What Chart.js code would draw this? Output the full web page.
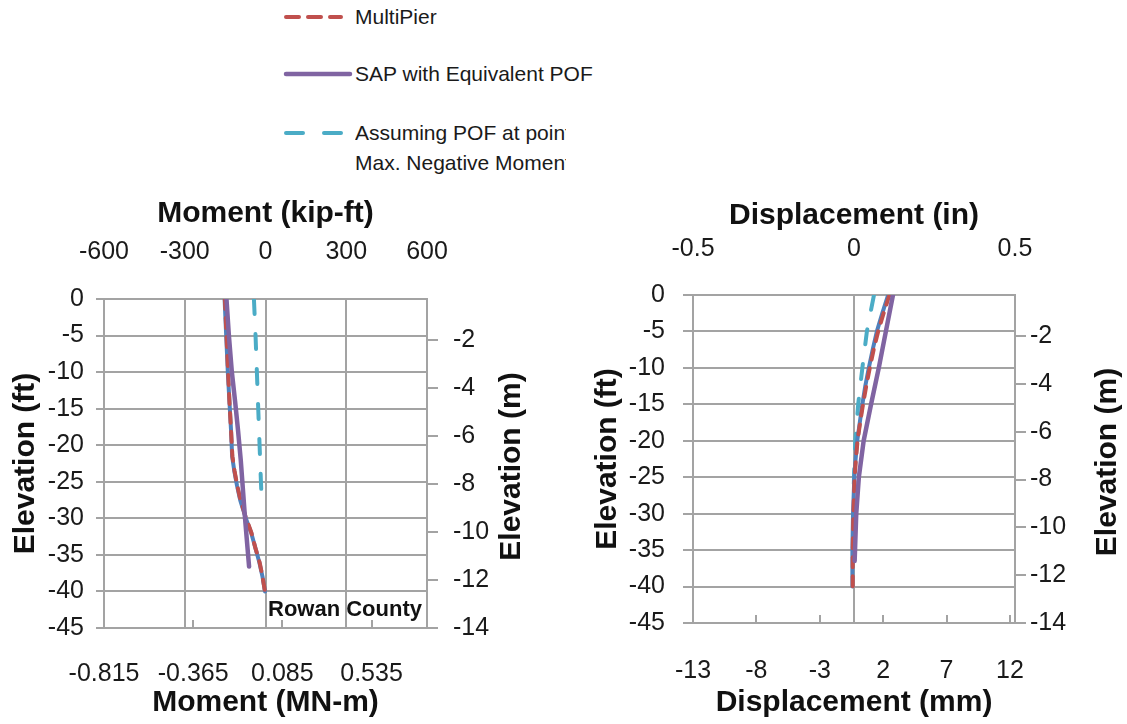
<!DOCTYPE html>
<html>
<head>
<meta charset="utf-8">
<title>Rowan County – Moment and Displacement Profiles</title>
<script src="https://cdn.jsdelivr.net/npm/chart.js@4.4.1/dist/chart.umd.min.js"></script>
<style>
  html, body { margin: 0; padding: 0; background: #ffffff; }
  #page {
    position: relative; width: 1127px; height: 724px; overflow: hidden;
    font-family: 'Liberation Sans', Arial, sans-serif; color: #1f1f1f;
  }
  canvas { position: absolute; }
  #momentChart { left: 0; top: 190px; }
  #dispChart { left: 580px; top: 190px; }
  .key-row { position: absolute; left: 0; }
  .key-row svg { position: absolute; left: 280px; top: 0; overflow: visible; }
  .key-text {
    position: absolute; left: 355px; overflow: hidden;
    font-size: 21px; line-height: 30px; white-space: nowrap; color: #1a1a1a;
  }
</style>
</head>
<body>
<div id="page">
  <div id="legend"></div>
  <canvas id="momentChart" width="570" height="534"></canvas>
  <canvas id="dispChart" width="547" height="534"></canvas>
</div>
<script>
// ---------------- Series: bending moment along the shaft (kip-ft) ----------------
const mpMomentElevFt = [0, -5, -10, -14, -18, -21.5, -23.5, -25.5, -27.5, -30, -32, -34, -36, -38, -40];
const mpMoment       = [-151, -145, -139, -134, -128, -123, -115, -105, -93, -72, -52, -38, -22, -11, -2];
const actMoment      = [-152, -146, -140, -134, -128, -124, -116, -106, -94, -73, -53, -38, -23, -11, -2];

const sapMomentElevFt = [0, -5, -10, -14, -18, -22, -26, -30, -36.6];
const sapMoment       = [-145, -136, -125, -113, -102, -92, -84, -76, -61];

const pofMomentElevFt = [0, -5, -10, -15, -20, -25, -28.4];
const pofMoment       = [-43, -37, -32, -27, -22, -17, -13];

// ---------------- Series: lateral displacement along the shaft (in) ----------------
const mpDispElevFt = [0, -2.5, -5, -7.5, -10, -12.5, -15, -17.5, -20, -22.5, -25, -30, -35, -40];
const mpDisp       = [0.110, 0.092, 0.075, 0.061, 0.049, 0.038, 0.028, 0.019, 0.011, 0.006, 0.002, -0.002, -0.004, -0.004];
const actDisp      = [0.106, 0.088, 0.071, 0.058, 0.046, 0.035, 0.026, 0.018, 0.010, 0.005, 0.001, -0.003, -0.005, -0.005];

const sapDispElevFt = [0, -5, -10, -15, -20, -25, -30, -36.5];
const sapDisp       = [0.121, 0.099, 0.077, 0.053, 0.030, 0.015, 0.007, 0.002];

const pofDispElevFt = [0, -5, -10, -15, -20, -25, -28.4];
const pofDisp       = [0.062, 0.040, 0.026, 0.013, 0.004, 0.000, -0.002];

// ---------------- Secondary-axis tick positions and labels ----------------
const momentMNmTicks      = [-0.815, -0.365, 0.085, 0.535];
const momentMNmTickLabels = ['-0.815', '-0.365', '0.085', '0.535'];
const dispMmTicks         = [-12.7, -7.7, -2.7, 2.3, 7.3, 12.3];
const dispMmTickLabels    = ['-13', '-8', '-3', '2', '7', '12'];
const elevMTicks          = [-13.716, -11.716, -9.716, -7.716, -5.716, -3.716, -1.716];
const elevMTickLabels     = ['-14', '-12', '-10', '-8', '-6', '-4', '-2'];

// ---------------- Shared styling ----------------
const FONT = "'Liberation Sans', Arial, sans-serif";
const TEXT = '#1a1a1a';
const GRID = '#a3a3a3';
const C_RED = '#c0504d', C_PURPLE = '#8064a2', C_CYAN = '#4bacc6', C_BLUE = '#4f81bd';

Chart.defaults.font.family = FONT;
Chart.defaults.color = TEXT;

const toPoints = (xs, ys) => xs.map((x, i) => ({ x: x, y: ys[i] }));

function seriesSet(mp, act, sap, pof) {
  return [
    { label: 'SAP with Equivalent POF', data: sap, borderColor: C_PURPLE, borderWidth: 4.5,
      order: 0, legendSlot: 1 },
    { label: 'MultiPier', data: mp, borderColor: C_RED, borderWidth: 4, borderDash: [10, 9],
      keyDash: [13, 9], order: 1, legendSlot: 0 },
    { label: 'SAP with Actual POF', data: act, borderColor: C_BLUE, borderWidth: 4,
      order: 2, legendSlot: -1 },
    { label: ['Assuming POF at point of', 'Max. Negative Moment'], data: pof, borderColor: C_CYAN,
      borderWidth: 4, borderDash: [15, 20], keyDash: [17, 21], order: 3, legendSlot: 2 }
  ].map(d => Object.assign({
    showLine: true, pointRadius: 0, pointHoverRadius: 0, fill: false,
    borderCapStyle: 'round', borderJoinStyle: 'round', tension: 0,
    xAxisID: 'x', yAxisID: 'y'
  }, d));
}

// Short tick marks pointing into the plot from the bottom axis
const innerTicks = {
  id: 'innerTicks',
  afterDraw(chart, args, opts) {
    const s = chart.scales[opts.scaleId];
    if (!s) return;
    const ctx = chart.ctx, b = chart.chartArea.bottom;
    ctx.save();
    ctx.strokeStyle = GRID; ctx.lineWidth = 2;
    s.ticks.forEach(t => {
      const x = Math.round(s.getPixelForValue(t.value));
      ctx.beginPath(); ctx.moveTo(x, b); ctx.lineTo(x, b - opts.length); ctx.stroke();
    });
    ctx.restore();
  }
};

// Title for the right-hand elevation axis, reading bottom-to-top
const sideTitle = {
  id: 'sideTitle',
  afterDraw(chart, args, opts) {
    if (!opts.text) return;
    const ctx = chart.ctx, a = chart.chartArea;
    ctx.save();
    ctx.translate(opts.x, (a.top + a.bottom) / 2 + (opts.dy || 0));
    ctx.rotate(-Math.PI / 2);
    ctx.font = 'bold 30px ' + FONT;
    ctx.fillStyle = '#111'; ctx.textAlign = 'center'; ctx.textBaseline = 'middle';
    ctx.fillText(opts.text, 0, 0);
    ctx.restore();
  }
};

// Site name written inside the plot area
const siteNote = {
  id: 'siteNote',
  afterDraw(chart, args, opts) {
    if (!opts.text) return;
    const ctx = chart.ctx, a = chart.chartArea, y = chart.scales.y;
    ctx.save();
    ctx.font = 'bold 22px ' + FONT;
    ctx.fillStyle = '#111111'; ctx.textAlign = 'right'; ctx.textBaseline = 'middle';
    ctx.fillText(opts.text, a.right - 5, y.getPixelForValue(opts.elev));
    ctx.restore();
  }
};

const tickFont = { size: 25 };
const titleFont = { size: 30, weight: 'bold' };
const border = { display: true, color: GRID, width: 2 };

function buildChart(canvasId, cfg) {
  const canvas = document.getElementById(canvasId);
  const W = canvas.width, H = canvas.height;
  return new Chart(canvas, {
    type: 'scatter',
    data: { datasets: cfg.datasets },
    plugins: [innerTicks, sideTitle, siteNote],
    options: {
      responsive: false, animation: false, devicePixelRatio: 1,
      events: [],
      layout: { padding: 0 },
      plugins: {
        legend: { display: false }, tooltip: { enabled: false },
        innerTicks: { scaleId: 'x2', length: 8 },
        sideTitle: { text: cfg.rightTitle, x: cfg.rightTitleX, dy: 3 },
        siteNote: cfg.note || {}
      },
      scales: {
        x: {
          type: 'linear', position: 'top', min: cfg.xMin, max: cfg.xMax,
          ticks: { stepSize: cfg.xStep, font: tickFont, color: TEXT, padding: cfg.topPad,
                   autoSkip: false, maxRotation: 0 },
          grid: { color: GRID, lineWidth: 2, drawTicks: false },
          border: border,
          title: { display: true, text: cfg.topTitle, font: titleFont, color: '#111',
                   padding: { top: cfg.topTitlePad, bottom: 0 } },
          afterFit: s => { s.height = cfg.plotTop; }
        },
        x2: {
          type: 'linear', position: 'bottom', min: cfg.x2Min, max: cfg.x2Max,
          afterBuildTicks: s => { s.ticks = cfg.x2Ticks.map(v => ({ value: v })); },
          ticks: { font: tickFont, color: TEXT, padding: cfg.bottomPad, autoSkip: false, maxRotation: 0,
                   callback: (v, i) => cfg.x2Labels[i] },
          grid: { drawOnChartArea: false, drawTicks: false },
          border: border,
          title: { display: true, text: cfg.bottomTitle, font: titleFont, color: '#111',
                   padding: { top: 0, bottom: 3 } },
          afterFit: s => { s.height = H - cfg.plotBottom; }
        },
        y: {
          type: 'linear', position: 'left', min: -45, max: 0,
          ticks: { stepSize: 5, font: tickFont, color: TEXT, padding: cfg.leftPad, autoSkip: false },
          grid: { color: GRID, lineWidth: 2, drawTicks: true, tickLength: cfg.leftTick },
          border: border,
          title: { display: true, text: 'Elevation (ft)', font: titleFont, color: '#111',
                   padding: { top: cfg.leftTitlePad, bottom: 0 } },
          afterFit: s => { s.width = cfg.plotLeft; }
        },
        y2: {
          type: 'linear', position: 'right', min: -13.716, max: 0,
          afterBuildTicks: s => { s.ticks = elevMTicks.map(v => ({ value: v })); },
          ticks: { font: tickFont, color: TEXT, padding: cfg.rightPad, autoSkip: false,
                   callback: (v, i) => elevMTickLabels[i] },
          grid: { drawOnChartArea: false, drawTicks: true, tickLength: 11, color: GRID, lineWidth: 2 },
          border: border,
          afterFit: s => { s.width = W - cfg.plotRight; }
        }
      }
    }
  });
}

const momentChart = buildChart('momentChart', {
  datasets: seriesSet(
    toPoints(mpMoment, mpMomentElevFt),
    toPoints(actMoment, mpMomentElevFt),
    toPoints(sapMoment, sapMomentElevFt),
    toPoints(pofMoment, pofMomentElevFt)
  ),
  xMin: -600, xMax: 600, xStep: 300,
  x2Min: -0.815, x2Max: 0.815, x2Ticks: momentMNmTicks, x2Labels: momentMNmTickLabels,
  topTitle: 'Moment (kip-ft)', bottomTitle: 'Moment (MN-m)',
  plotLeft: 104, plotRight: 427, plotTop: 109, plotBottom: 438,
  topPad: 32, topTitlePad: 6, bottomPad: 31,
  leftPad: 12, leftTick: 8, leftTitlePad: 8, rightPad: 15,
  rightTitle: 'Elevation (m)', rightTitleX: 512,
  note: { text: 'Rowan County', elev: -42.5 }
});

const dispChart = buildChart('dispChart', {
  datasets: seriesSet(
    toPoints(mpDisp, mpDispElevFt),
    toPoints(actDisp, mpDispElevFt),
    toPoints(sapDisp, sapDispElevFt),
    toPoints(pofDisp, pofDispElevFt)
  ),
  xMin: -0.5, xMax: 0.5, xStep: 0.5,
  x2Min: -12.7, x2Max: 12.7, x2Ticks: dispMmTicks, x2Labels: dispMmTickLabels,
  topTitle: 'Displacement (in)', bottomTitle: 'Displacement (mm)',
  plotLeft: 113, plotRight: 435, plotTop: 105, plotBottom: 433,
  topPad: 31, topTitlePad: 8, bottomPad: 33,
  leftPad: 18, leftTick: 10, leftTitlePad: 10, rightPad: 4,
  rightTitle: 'Elevation (m)', rightTitleX: 528
});

// ---------------- Legend (built from the moment chart's datasets) ----------------
(function buildLegend() {
  const rowsTop = [17, 74, 133];      // vertical centre of each entry's first line
  const sampleLen = [61, 70, 66];
  const clipWidth = [null, null, 211]; // the wrapped entry is cut off at the legend box edge
  const host = document.getElementById('legend');
  const entries = momentChart.data.datasets
    .filter(d => d.legendSlot >= 0)
    .sort((a, b) => a.legendSlot - b.legendSlot);
  entries.forEach((d, i) => {
    const cy = rowsTop[i];
    const row = document.createElement('div');
    row.className = 'key-row';
    row.style.top = '0px';
    const svgNS = 'http://www.w3.org/2000/svg';
    const svg = document.createElementNS(svgNS, 'svg');
    svg.setAttribute('width', '80'); svg.setAttribute('height', '10');
    svg.style.top = (cy - 5) + 'px';
    const line = document.createElementNS(svgNS, 'line');
    line.setAttribute('x1', '6'); line.setAttribute('x2', String(sampleLen[i]));
    line.setAttribute('y1', '5'); line.setAttribute('y2', '5');
    line.setAttribute('stroke', d.borderColor);
    line.setAttribute('stroke-width', String(d.borderWidth));
    line.setAttribute('stroke-linecap', 'round');
    const dash = d.keyDash || d.borderDash;
    if (dash) line.setAttribute('stroke-dasharray', dash.join(' '));
    svg.appendChild(line);
    row.appendChild(svg);
    const lines = Array.isArray(d.label) ? d.label : [d.label];
    const txt = document.createElement('div');
    txt.className = 'key-text';
    txt.style.top = (cy - 15) + 'px';
    if (clipWidth[i]) txt.style.width = clipWidth[i] + 'px';
    lines.forEach(t => {
      const ln = document.createElement('div');
      ln.textContent = t;
      txt.appendChild(ln);
    });
    row.appendChild(txt);
    host.appendChild(row);
  });
})();
</script>
</body>
</html>
